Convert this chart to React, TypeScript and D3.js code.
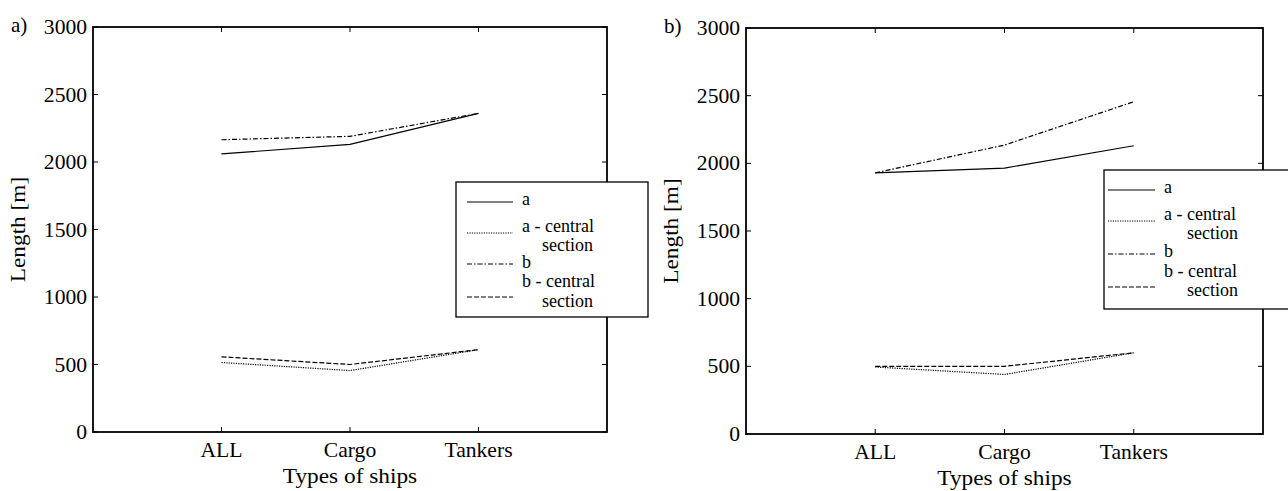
import React from 'react';
import * as d3 from 'd3';

const categories = ['ALL', 'Cargo', 'Tankers'];
const yTicks = [0, 500, 1000, 1500, 2000, 2500, 3000];

// panel a)
const aLeft = [2060, 2130, 2360];
const aCentralLeft = [515, 455, 610];
const bLeft = [2165, 2190, 2360];
const bCentralLeft = [557, 500, 610];

// panel b)
const aRight = [1930, 1965, 2130];
const aCentralRight = [495, 440, 600];
const bRight = [1930, 2135, 2455];
const bCentralRight = [500, 500, 600];

const seriesNames = ['a', 'a - central|section', 'b', 'b - central|section'];
const dashes = ['none', '1.2,1.2', '5,2,1.5,2', '5,2'];

interface LegendLayout {
  x: number; y: number; w: number; h: number;
  lx0: number; lx1: number; tx: number; ix: number;
  lineY: number[]; textY: number[][];
}

interface PanelProps {
  tag: string;
  left: number;
  right: number;
  top: number;
  bottom: number;
  series: number[][];
  legend: LegendLayout;
}

const font = 'Liberation Serif, DejaVu Serif, serif';

// text with a little horizontal widening, like the reference's font
const T: React.FC<{ x: number; y: number; size: number; sx?: number; rot?: number; anchor?: string; children: React.ReactNode }> =
  ({ x, y, size, sx = 1, rot = 0, anchor = 'start', children }) => (
    <text transform={`translate(${x},${y}) rotate(${rot}) scale(${sx},1)`} fontSize={size} textAnchor={anchor}>{children}</text>
  );

const Panel: React.FC<PanelProps> = ({ tag, left, right, top, bottom, series, legend }) => {
  const x = d3.scaleLinear().domain([0, 4]).range([left, right]);
  const y = d3.scaleLinear().domain([0, 3000]).range([bottom, top]);
  const line = d3.line<number>().x((_, i) => x(i + 1)).y(d => y(d));
  const tk = 5;

  return (
    <g style={{ fontFamily: font }} fill="#000">
      <T x={left - 82} y={top + 5} size={21}>{tag}</T>
      {series.map((s, i) => (
        <path key={i} d={line(s) || ''} fill="none" stroke="#000" strokeWidth={1.2}
          strokeDasharray={dashes[i]} />
      ))}
      {yTicks.map(t => (
        <g key={t}>
          <line x1={left} x2={left + tk} y1={y(t)} y2={y(t)} stroke="#000" />
          <line x1={right} x2={right - tk} y1={y(t)} y2={y(t)} stroke="#000" />
          <T x={left - 6} y={y(t) + 7} size={20} sx={1.08} anchor="end">{t}</T>
        </g>
      ))}
      {categories.map((c, i) => (
        <g key={c}>
          <line x1={x(i + 1)} x2={x(i + 1)} y1={bottom} y2={bottom - tk} stroke="#000" />
          <line x1={x(i + 1)} x2={x(i + 1)} y1={top} y2={top + tk} stroke="#000" />
          <T x={x(i + 1)} y={bottom + 25} size={21} sx={1.03} anchor="middle">{c}</T>
        </g>
      ))}
      <rect x={left} y={top} width={right - left} height={bottom - top} fill="none" stroke="#000" strokeWidth={1.8} />
      <T x={(left + right) / 2} y={bottom + 51} size={22} sx={1.06} anchor="middle">Types of ships</T>
      <T x={left - 68} y={(top + bottom) / 2} size={22} sx={1.06} rot={-90} anchor="middle">Length [m]</T>
      <g>
        <rect x={legend.x} y={legend.y} width={legend.w} height={legend.h} fill="#fff" stroke="#000" strokeWidth={1.3} />
        {seriesNames.map((n, i) => {
          const parts = n.split('|');
          return (
            <g key={n}>
              <line x1={legend.x + legend.lx0} x2={legend.x + legend.lx1}
                y1={legend.y + legend.lineY[i]} y2={legend.y + legend.lineY[i]}
                stroke="#000" strokeWidth={1} strokeDasharray={dashes[i]} />
              {parts.map((p, j) => (
                <T key={p} x={legend.x + (j === 0 ? legend.tx : legend.ix)} y={legend.y + legend.textY[i][j]} size={18}>{p}</T>
              ))}
            </g>
          );
        })}
      </g>
    </g>
  );
};

export default function App() {
  return (
    <svg width={1288} height={491} style={{ position: 'absolute', left: 0, top: 0, background: '#fff' }}>
      <rect width={1288} height={491} fill="#fff" />
      <Panel tag="a)" left={93} right={607} top={27} bottom={432}
        series={[aLeft, aCentralLeft, bLeft, bCentralLeft]}
        legend={{
          x: 456, y: 182, w: 192, h: 135, lx0: 11, lx1: 57, tx: 66, ix: 86,
          lineY: [20, 51, 82, 115], textY: [[23], [50, 69], [86], [105, 125]],
        }} />
      <Panel tag="b)" left={746} right={1263} top={28} bottom={434}
        series={[aRight, aCentralRight, bRight, bCentralRight]}
        legend={{
          x: 1104, y: 170, w: 190, h: 139, lx0: 4, lx1: 51, tx: 60, ix: 83,
          lineY: [20, 51, 84, 117], textY: [[23], [50, 69], [87], [107, 126]],
        }} />
    </svg>
  );
}
